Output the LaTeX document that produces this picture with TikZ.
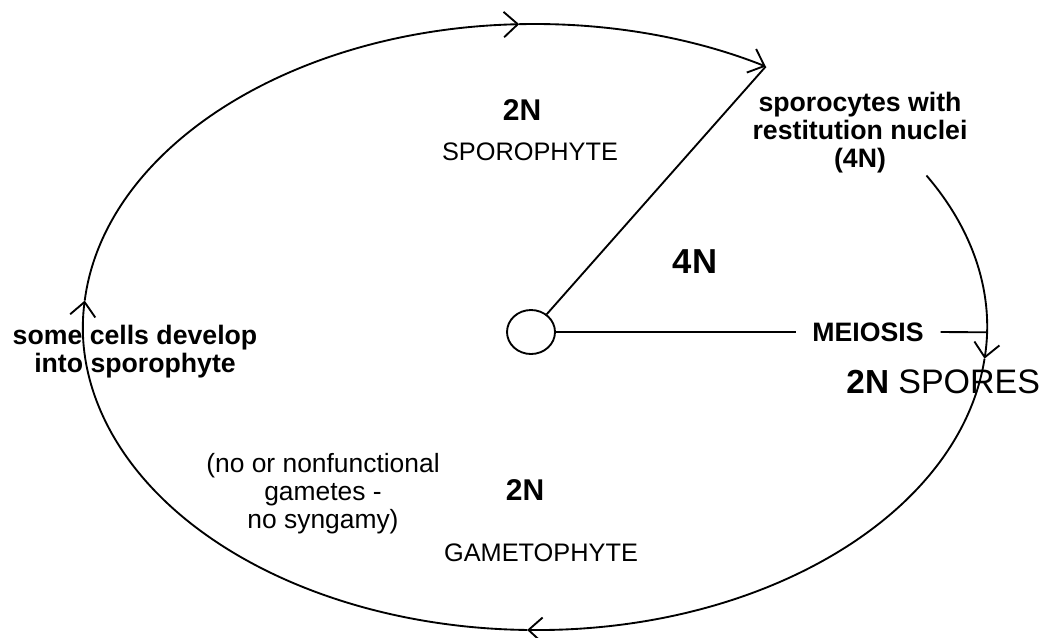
\documentclass[tikz,border=0pt]{standalone}
\usepackage{fontspec}
\setmainfont{Liberation Sans}
\usetikzlibrary{arrows.meta,shapes.geometric}
\begin{document}
\begin{tikzpicture}[x=0.75pt,y=-0.75pt,
  line width=1.4pt,
  barb/.style={-{Straight Barb[length=10.5pt,width=19pt,line width=1.4pt]}},
  boldtxt/.style={font=\fontsize{20}{21}\selectfont\bfseries, align=center, inner sep=0pt},
  regtxt/.style={font=\fontsize{19.8}{21}\selectfont, align=center, inner sep=0pt},
  captxt/.style={font=\fontsize{19}{21}\selectfont, inner sep=0pt},
  ntxt/.style={font=\fontsize{22.5}{24}\selectfont\bfseries, inner sep=0pt},
  bigntxt/.style={font=\fontsize{26}{28}\selectfont\bfseries, inner sep=0pt},
  er/.style={x radius=452, y radius=303}
]
\useasboundingbox (0,0) rectangle (1044,637);
\coordinate (C) at (535,327);
\path (C) ++(-30:452 and 303) coordinate (a0);
\path (C) ++(1:452 and 303) coordinate (mr);
% ellipse, drawn clockwise with arrow heads
\draw[barb] (a0) arc[start angle=-30, end angle=6, er] coordinate (a1);
\draw[barb] (a1) arc[start angle=6, end angle=91, er] coordinate (a2);
\draw[barb] (a2) arc[start angle=91, end angle=185, er] coordinate (a3);
\draw[barb] (a3) arc[start angle=185, end angle=268, er] coordinate (a4);
\draw[barb] (a4) arc[start angle=268, end angle=300.7, er] coordinate (a5);
% central cell
\node[draw, ellipse, minimum width=36pt, minimum height=33pt, inner sep=0pt] (c) at (531,332) {};
% labels
\node[ntxt] (n2top) at (522,110) {2N};
\node[captxt] (spo) at (530,152) {SPOROPHYTE};
\node[boldtxt] (spc) at (860,133) {sporocytes with\\restitution nuclei\\(4N)};
\node[bigntxt] (n4) at (695,262) {4N};
\node[boldtxt, inner xsep=12pt] (mei) at (868,332) {MEIOSIS};
\node[boldtxt] (some) at (135,352) {some cells develop\\into sporophyte};
\node[inner sep=0pt, anchor=east] (spores) at (1041,382) {\fontsize{25}{26}\selectfont\bfseries 2N \fontsize{25.5}{26}\selectfont\mdseries SPORES};
\node[regtxt] (nof) at (323,494) {(no or nonfunctional\\gametes -\\no syngamy)};
\node[ntxt] (n2b) at (525,490) {2N};
\node[captxt] (gam) at (541,553) {GAMETOPHYTE};
% connectors
\draw (c) -- (a5);
\draw (c.east) -- (mei.west);
\draw (mei.east) -- (mr);
\end{tikzpicture}
\end{document}
